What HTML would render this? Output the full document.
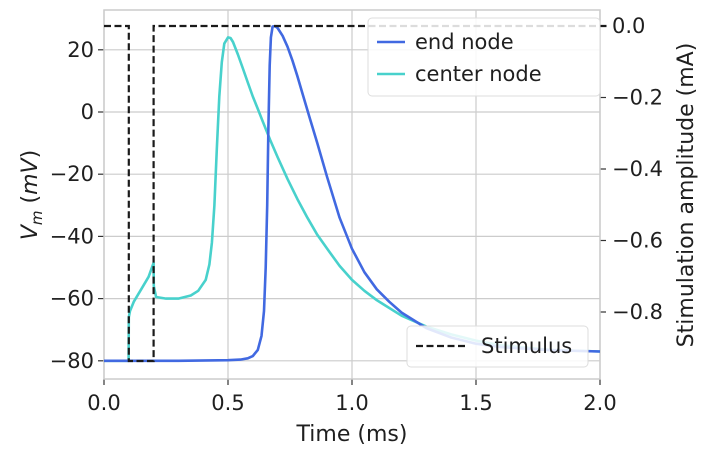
<!DOCTYPE html>
<html><head><meta charset="utf-8"><style>
body{margin:0;background:#fff;font-family:"Liberation Sans","DejaVu Sans",sans-serif}
svg text{font-family:"DejaVu Sans","Liberation Sans",sans-serif;fill:#1f1f1f}
</style></head><body>
<svg id="c" width="708" height="455"></svg>
<script>
const tEnd=[0,0.3,0.5,0.55,0.58,0.6,0.62,0.635,0.645,0.652,0.658,0.663,0.668,0.673,0.68,0.69,0.7,0.72,0.74,0.76,0.78,0.8,0.83,0.86,0.9,0.95,1.0,1.05,1.1,1.15,1.2,1.3,1.4,1.5,1.6,1.8,2.0];
const vEnd=[-80,-80,-79.8,-79.6,-79.2,-78.5,-76.5,-72,-64,-50,-30,-5,15,24,27.5,27.6,27,24.5,21,16.5,11.5,6,-2,-10,-21,-34,-44,-51.5,-57,-61,-64.5,-69.5,-72.5,-74.5,-75.6,-76.6,-77];
const tCen=[0,0.099,0.1,0.105,0.12,0.15,0.18,0.2,0.201,0.21,0.25,0.3,0.35,0.38,0.41,0.425,0.435,0.445,0.455,0.465,0.475,0.485,0.5,0.51,0.52,0.54,0.56,0.58,0.6,0.62,0.64,0.67,0.7,0.74,0.78,0.82,0.86,0.9,0.95,1.0,1.05,1.1,1.2,1.3,1.4,1.5,1.6,1.8,2.0];
const vCen=[-80,-80,-66,-64,-61,-57,-53,-48.5,-56,-59.5,-60,-60,-59,-57.5,-54,-49,-42,-30,-12,5,16,22,24,23.8,22.5,18.5,14,9.5,5,1,-3,-9,-14.5,-21.5,-28,-34,-39.5,-44,-49.5,-54,-57.5,-60.5,-65.5,-69,-71.5,-73.5,-75,-76.5,-77];
const tStim=[0,0.1,0.1,0.2,0.2,2.0];
const vStim=[0,0,-0.937,-0.937,0,0];
const xTicks=[0,0.5,1.0,1.5,2.0], xLabels=["0.0","0.5","1.0","1.5","2.0"];
const yTicks=[-80,-60,-40,-20,0,20], yLabels=["−80","−60","−40","−20","0","20"];
const y2Ticks=[-0.8,-0.6,-0.4,-0.2,0], y2Labels=["−0.8","−0.6","−0.4","−0.2","0.0"];
const L=104,R=600,T=10,B=379;
const X=t=>L+(t/2)*(R-L);
const Y=v=>112-v*3.11;
const Y2=v=>26-v*357.5;
const svg=document.getElementById('c');const NS='http://www.w3.org/2000/svg';
function el(tag,attrs,name,txt){const e=document.createElementNS(NS,tag);for(const k in attrs)e.setAttribute(k,attrs[k]);


if(txt!==undefined)e.textContent=txt;svg.appendChild(e);return e;}
el('rect',{x:L,y:T,width:R-L,height:B-T,fill:'#fff'},'plot-area');
xTicks.forEach((t,i)=>{el('line',{x1:X(t),x2:X(t),y1:T,y2:B,stroke:'#ccc','stroke-width':1.2},'x-grid-line');
el('line',{x1:X(t),x2:X(t),y1:B,y2:B+6,stroke:'#333','stroke-width':1.2},'x-tick');
el('text',{x:X(t),y:B+31,'text-anchor':'middle','font-size':21},'x-tick-label',xLabels[i]);});
yTicks.forEach((v,i)=>{el('line',{x1:L,x2:R,y1:Y(v),y2:Y(v),stroke:'#ccc','stroke-width':1.2},'y-grid-line');
el('line',{x1:L-6,x2:L,y1:Y(v),y2:Y(v),stroke:'#333','stroke-width':1.2},'y-tick');
el('text',{x:L-10,y:Y(v)+7,'text-anchor':'end','font-size':21},'y-tick-label',yLabels[i]);});
y2Ticks.forEach((v,i)=>{el('line',{x1:R,x2:R+6,y1:Y2(v),y2:Y2(v),stroke:'#333','stroke-width':1.2},'y2-tick');
el('text',{x:R+12,y:Y2(v)+7,'font-size':21},'y2-tick-label',y2Labels[i]);});
el('rect',{x:L,y:T,width:R-L,height:B-T,fill:'none',stroke:'#ccc','stroke-width':1.5},'plot-frame');
function path(ts,vs,f){return ts.map((t,i)=>(i?'L':'M')+X(t).toFixed(1)+','+f(vs[i]).toFixed(1)).join('');}
el('path',{d:path(tCen,vCen,Y),fill:'none',stroke:'#48d1cc','stroke-width':2.6,'stroke-linejoin':'round'},'center-node-line');
el('path',{d:path(tEnd,vEnd,Y),fill:'none',stroke:'#4169e1','stroke-width':2.6,'stroke-linejoin':'round'},'end-node-line');
el('path',{d:path(tStim,vStim,Y2)+'L'+(R+10)+','+Y2(0),fill:'none',stroke:'#1a1a1a','stroke-width':2.2,'stroke-dasharray':'7,3.5'},'stimulus-line');
el('text',{x:352,y:441,'text-anchor':'middle','font-size':22},'x-axis-title','Time (ms)');
el('text',{transform:'translate(37,195) rotate(-90)','text-anchor':'middle','font-size':22},'y-axis-title','').innerHTML='<tspan font-style="italic">V</tspan><tspan font-style="italic" font-size="15" dy="5">m</tspan><tspan dy="-5"> (</tspan><tspan font-style="italic">mV</tspan>)';
el('text',{transform:'translate(693,195) rotate(-90)','text-anchor':'middle','font-size':22},'y2-axis-title','Stimulation amplitude (mA)');
el('rect',{x:368,y:18,width:232,height:78,rx:4,fill:'#fff','fill-opacity':0.85,stroke:'#ddd'},'legend-box');
el('line',{x1:377,x2:405,y1:42,y2:42,stroke:'#4169e1','stroke-width':2.6},'legend-end-node-swatch');
el('text',{x:415,y:49,'font-size':21},'legend-end-node-label','end node');
el('line',{x1:377,x2:405,y1:74,y2:74,stroke:'#48d1cc','stroke-width':2.6},'legend-center-node-swatch');
el('text',{x:415,y:81,'font-size':21},'legend-center-node-label','center node');
el('rect',{x:407,y:326,width:181,height:41,rx:4,fill:'#fff','fill-opacity':0.85,stroke:'#ddd'},'legend2-box');
el('line',{x1:416,x2:466,y1:346,y2:346,stroke:'#1a1a1a','stroke-width':2.2,'stroke-dasharray':'7,3.5'},'legend-stimulus-swatch');
el('text',{x:481,y:353,'font-size':21},'legend-stimulus-label','Stimulus');
</script></body></html>
